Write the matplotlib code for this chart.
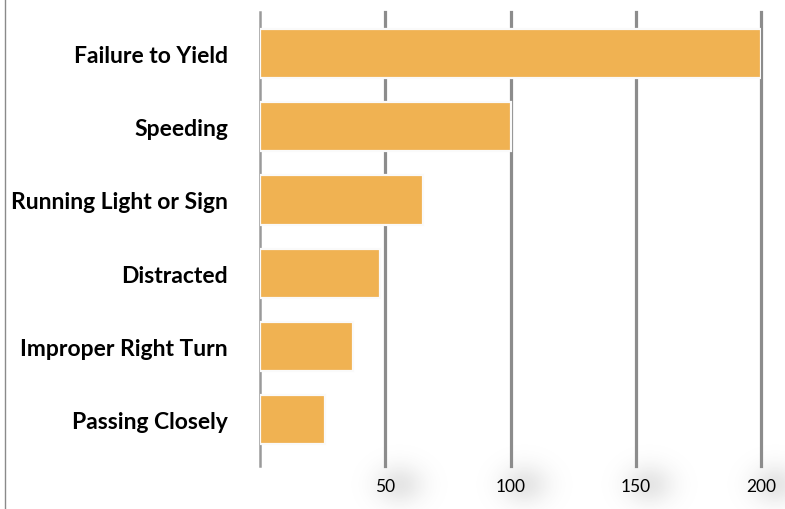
import numpy as np
import matplotlib.pyplot as plt
from matplotlib.lines import Line2D

# Crash causes and counts
causes = ["Failure to Yield", "Speeding", "Running Light or Sign",
          "Distracted", "Improper Right Turn", "Passing Closely"]
counts = [200, 100, 65, 48, 37, 26]
ticks = [50, 100, 150, 200]

BAR_COLOR = "#F0B252"
GRID_COLOR = "#8C8C8C"

fig = plt.figure(figsize=(7.85, 5.10), dpi=100)
ax = fig.add_axes([260 / 785, 43 / 510, 501 / 785, 454 / 510])
ax.set_facecolor("none")

y = np.arange(len(causes))
ax.barh(y, counts, height=0.67, color=BAR_COLOR, edgecolor="#FAFAFA",
        linewidth=1.6, zorder=3)

ax.set_xlim(0, 200)
ax.set_ylim(len(causes) - 1 + 0.63, -0.565)

# vertical gridlines
for t in ticks:
    ax.axvline(t, color=GRID_COLOR, linewidth=2.3, zorder=1, clip_on=False)

for side in ["top", "right", "bottom"]:
    ax.spines[side].set_visible(False)
ax.spines["left"].set_color("#9A9A9A")
ax.spines["left"].set_linewidth(1.8)

ax.set_xticks(ticks)
ax.set_xticklabels([str(t) for t in ticks], fontsize=12.5, family="Lato")
ax.tick_params(axis="x", length=0, pad=9)
ax.set_yticks(y)
ax.set_yticklabels(causes, fontsize=16.5, fontweight="bold", family="Lato")
ax.tick_params(axis="y", length=0, pad=23)

# soft shadow behind the x tick labels
h, w = 110, 120
yy, xx = np.mgrid[0:h, 0:w]
blob = np.exp(-(((xx - w / 2) / 24.0) ** 2 + ((yy - h / 2) / 20.0) ** 2))
shadow = np.zeros((h, w, 4))
shadow[..., :3] = 0.55
shadow[..., 3] = 0.22 * blob
fig.canvas.draw()
for t in ticks:
    px, py = ax.transData.transform((t, ax.get_ylim()[0]))
    fig.figimage(shadow, xo=int(px + 14 - w / 2), yo=int(py - 18 - h / 2),
                 zorder=-1)

# thin border line at the far left
fig.add_artist(Line2D([5 / 785, 5 / 785], [0, 1], color="#8A8A8A",
                      linewidth=1.0, transform=fig.transFigure))

fig.savefig("out.png", dpi=100, facecolor="white")
